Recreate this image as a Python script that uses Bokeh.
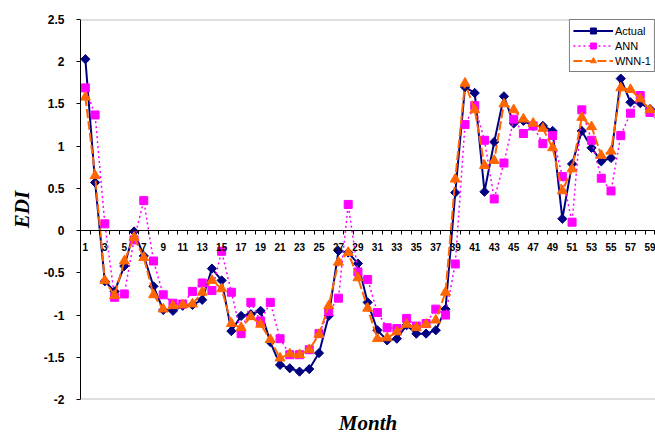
from bokeh.plotting import figure
from bokeh.models import Range1d, FixedTicker, Span, Legend, LegendItem, LinearAxis
from bokeh.embed import file_html
from bokeh.resources import INLINE

months = list(range(1, 61))
actual = [2.03, 0.57, -0.60, -0.72, -0.42, -0.01, -0.30, -0.66, -0.94, -0.95,
          -0.89, -0.88, -0.82, -0.45, -0.59, -1.19, -1.01, -0.99, -0.95, -1.32,
          -1.59, -1.63, -1.67, -1.64, -1.45, -1.01, -0.24, -0.26, -0.39, -0.85,
          -1.18, -1.30, -1.28, -1.12, -1.22, -1.22, -1.18, -0.93, 0.45, 1.70,
          1.63, 0.46, 1.05, 1.59, 1.27, 1.30, 1.24, 1.24, 1.18, 0.14,
          0.79, 1.18, 0.98, 0.82, 0.86, 1.80, 1.52, 1.51, 1.44, 1.42]
ann = [1.69, 1.37, 0.08, -0.79, -0.75, -0.11, 0.355, -0.36, -0.76, -0.86,
       -0.87, -0.72, -0.62, -0.71, -0.245, -0.73, -1.22, -0.85, -1.07, -0.85,
       -1.28, -1.47, -1.47, -1.41, -1.22, -0.96, -0.80, 0.31, -0.49, -0.58,
       -0.97, -1.15, -1.16, -1.04, -1.13, -1.10, -0.93, -1.00, -0.395, 1.256,
       1.48, 1.07, 0.375, 0.80, 1.32, 1.15, 1.24, 1.03, 1.125, 0.64,
       0.10, 1.43, 1.07, 0.62, 0.47, 1.125, 1.39, 1.60, 1.40, 1.28]
wnn = [1.58, 0.65, -0.59, -0.77, -0.36, -0.08, -0.32, -0.76, -0.93, -0.89,
       -0.88, -0.87, -0.73, -0.59, -0.69, -1.10, -1.15, -1.02, -1.11, -1.29,
       -1.51, -1.46, -1.47, -1.41, -1.23, -0.89, -0.375, -0.26, -0.56, -0.92,
       -1.28, -1.27, -1.20, -1.11, -1.15, -1.11, -1.06, -0.73, 0.61, 1.745,
       1.43, 0.77, 0.83, 1.50, 1.43, 1.32, 1.27, 1.21, 0.98, 0.47,
       0.73, 1.34, 1.23, 0.89, 0.94, 1.69, 1.67, 1.56, 1.43, 1.40]

x_tick_values = list(range(1, 60, 2))
x_tick_labels = [str(v) for v in x_tick_values]
y_tick_values = [-2, -1.5, -1, -0.5, 0, 0.5, 1, 1.5, 2, 2.5]
y_tick_labels = ["-2", "-1.5", "-1", "-0.5", "0", "0.5", "1", "1.5", "2", "2.5"]
series_names = ["Actual", "ANN", "WNN-1"]

p = figure(width=655, height=437, output_backend="svg", toolbar_location=None,
           x_range=Range1d(0.5, 59.57), y_range=Range1d(-2, 2.5),
           min_border_top=19, min_border_left=80, min_border_right=0,
           min_border_bottom=38)
p.outline_line_color = None
p.xgrid.visible = False
p.ygrid.visible = False
p.background_fill_color = "white"
p.border_fill_color = "white"

for yv in (y_tick_values[0], y_tick_values[-1]):
    p.add_layout(Span(location=yv, dimension="width", line_color="#c0c0c0", line_width=2))

# x axis crossing at 0
xa = p.xaxis[0]
xa.fixed_location = 0
xa.ticker = FixedTicker(ticks=x_tick_values, minor_ticks=[m - 0.5 for m in months])
xa.major_label_overrides = {v: l for v, l in zip(x_tick_values, x_tick_labels)}
xa.major_tick_out = 0
xa.major_tick_in = 0
xa.minor_tick_out = 4
xa.minor_tick_in = 0
xa.minor_tick_line_color = "black"
xa.axis_line_color = "black"
xa.major_label_standoff = 8
xa.major_label_text_font = "Liberation Sans"
xa.major_label_text_font_style = "bold"
xa.major_label_text_font_size = "10px"
xa.major_label_text_color = "black"

# axis title "Month" at the bottom of the chart
title_axis = LinearAxis(axis_label="Month", ticker=FixedTicker(ticks=[], minor_ticks=[]),
                        major_tick_out=0, major_tick_in=0, minor_tick_out=0, minor_tick_in=0,
                        axis_line_color=None, major_label_text_font_size="0px",
                        major_label_standoff=0, axis_label_standoff=11,
                        axis_label_text_font="Liberation Serif",
                        axis_label_text_font_style="bold italic",
                        axis_label_text_font_size="21px", axis_label_text_color="black")
p.add_layout(title_axis, "below")

ya = p.yaxis[0]
ya.ticker = FixedTicker(ticks=y_tick_values, minor_ticks=[])
ya.major_label_overrides = {v: l for v, l in zip(y_tick_values, y_tick_labels)}
ya.major_tick_out = 4
ya.major_tick_in = 0
ya.major_tick_line_color = "black"
ya.axis_line_color = "black"
ya.major_label_standoff = 12
ya.major_label_text_font = "Liberation Sans"
ya.major_label_text_font_style = "bold"
ya.major_label_text_font_size = "12px"
ya.major_label_text_color = "black"
ya.axis_label = "EDI"
ya.axis_label_text_font = "Liberation Serif"
ya.axis_label_text_font_style = "bold italic"
ya.axis_label_text_font_size = "21px"
ya.axis_label_text_color = "black"
ya.axis_label_standoff = 7

l1 = p.line(months, actual, line_color="#000080", line_width=2)
s1 = p.scatter(months, actual, marker="square", angle=0.785398, size=6.5,
               fill_color="#000080", line_color="#000080")
l2 = p.line(months, ann, line_color="#FF00FF", line_width=1.5, line_dash="2 3")
s2 = p.scatter(months, ann, marker="square", size=8,
               fill_color="#FF00FF", line_color="#FF00FF")
l3 = p.line(months, wnn, line_color="#FF6600", line_width=2, line_dash="9 3")
s3 = p.scatter(months, wnn, marker="triangle", size=10,
               fill_color="#FF6600", line_color="#FF6600")

legend = Legend(items=[LegendItem(label=series_names[0], renderers=[l1, s1]),
                       LegendItem(label=series_names[1], renderers=[l2, s2]),
                       LegendItem(label=series_names[2], renderers=[l3, s3])],
                location="top_right", margin=0, padding=3, spacing=0,
                glyph_width=40, glyph_height=15, label_height=15,
                label_standoff=2, label_text_font="Liberation Sans",
                label_text_font_size="11px", label_text_color="black",
                border_line_color="black", border_line_width=1,
                background_fill_color="white", background_fill_alpha=1)
p.add_layout(legend)

open("out.html", "w").write(file_html(p, INLINE))
